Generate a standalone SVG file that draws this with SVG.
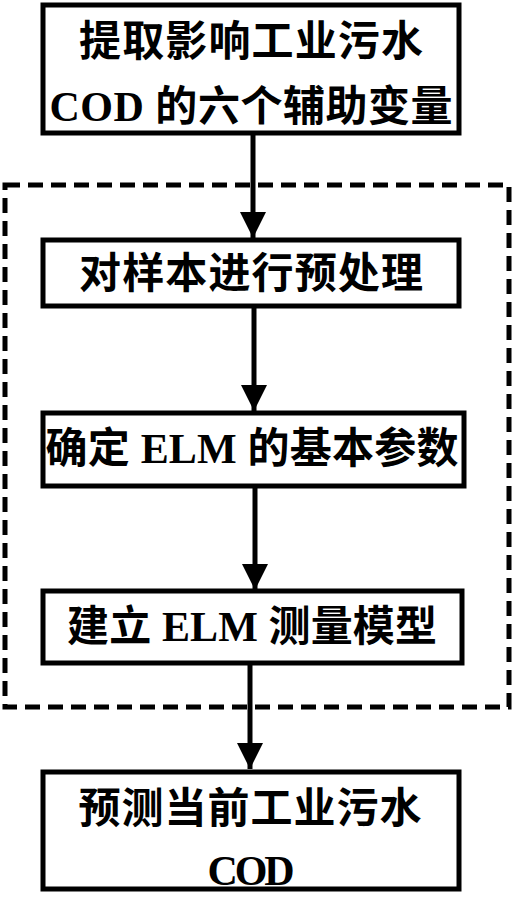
<svg xmlns="http://www.w3.org/2000/svg" width="529" height="898" viewBox="0 0 529 898">
<style>
.box{fill:#fff;stroke:#000;stroke-width:5}
.t{font-family:"Liberation Serif","Noto Sans CJK SC",serif;font-weight:bold;font-size:42px;fill:#000;text-anchor:middle}
.c{stroke:#000;stroke-width:5;fill:none}
</style>
<defs>
<marker id="ah" markerUnits="userSpaceOnUse" markerWidth="28" markerHeight="26" refX="26" refY="13" orient="auto">
<path d="M0,0 L26,13 L0,26 Z" fill="#000"/>
</marker>
</defs>
<rect x="5" y="185" width="504" height="522" fill="none" stroke="#000" stroke-width="5" stroke-dasharray="15 8"/>
<g id="connectors">
<line class="c" x1="253" y1="133" x2="253" y2="238" marker-end="url(#ah)"/>
<line class="c" x1="254" y1="306" x2="254" y2="411" marker-end="url(#ah)"/>
<line class="c" x1="255" y1="486" x2="255" y2="590" marker-end="url(#ah)"/>
<line class="c" x1="250" y1="663" x2="250" y2="769" marker-end="url(#ah)"/>
</g>
<g id="n1">
<rect class="box" x="43" y="5" width="416" height="128"/>
<text class="t" x="251" y="56" textLength="344">提取影响工业污水</text>
<text class="t" x="251" y="121" textLength="403">COD 的六个辅助变量</text>
</g>
<g id="n2">
<rect class="box" x="43" y="240" width="416" height="66"/>
<text class="t" x="251" y="288" textLength="344">对样本进行预处理</text>
</g>
<g id="n3">
<rect class="box" x="43" y="413" width="421" height="73"/>
<text class="t" x="252" y="463" textLength="413">确定 ELM 的基本参数</text>
</g>
<g id="n4">
<rect class="box" x="43" y="591" width="419" height="72"/>
<text class="t" x="252" y="641" textLength="370">建立 ELM 测量模型</text>
</g>
<g id="n5">
<rect class="box" x="43" y="772" width="416" height="117"/>
<text class="t" x="250" y="823" textLength="343">预测当前工业污水</text>
<text class="t" x="251" y="885" textLength="87">COD</text>
</g>
</svg>
